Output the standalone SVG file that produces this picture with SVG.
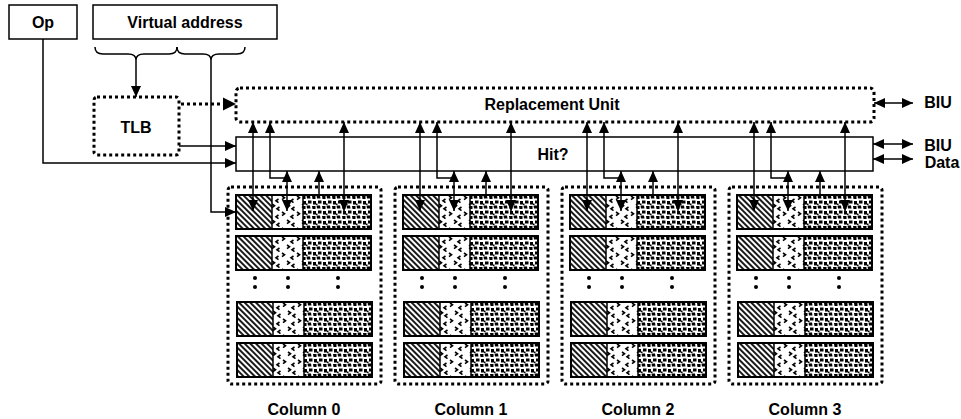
<svg xmlns="http://www.w3.org/2000/svg" xmlns:xlink="http://www.w3.org/1999/xlink" width="961" height="419" viewBox="0 0 961 419">
<style>
text{font-family:"Liberation Sans",Arial,sans-serif;font-weight:bold;font-size:16px;fill:#000;text-anchor:middle}
.box{fill:#fff;stroke:#000;stroke-width:1.5}
.dot{fill:none;stroke:#000;stroke-width:3;stroke-dasharray:3 3}
.ln{fill:none;stroke:#000;stroke-width:1.5}
.arr{marker-end:url(#ah)}
.arr2{marker-start:url(#ah);marker-end:url(#ah)}
.arrs{marker-start:url(#ah)}
.seg{stroke:#000;stroke-width:1.5}
</style>
<defs>
<marker id="ah" markerUnits="userSpaceOnUse" markerWidth="12" markerHeight="10" refX="11" refY="5" orient="auto-start-reverse"><path d="M0,0 L11,5 L0,10 z" fill="#000"/></marker>
<pattern id="hatch" patternUnits="userSpaceOnUse" width="4" height="10" patternTransform="rotate(-45)"><rect width="4" height="10" fill="#fff"/><line x1="1" y1="0" x2="1" y2="10" stroke="#000" stroke-width="1.8"/></pattern>
<pattern id="chev" patternUnits="userSpaceOnUse" width="15" height="16"><rect width="15" height="16" fill="#fff"/><path d="M1,1 L3.5,2.8 L1,4.6 M12.5,4 L10,5.8 L12.5,7.6 M6,9 L8.5,10.8 L6,12.6 M13.5,12 L11,13.8 L13.5,15.6" fill="none" stroke="#000" stroke-width="1.6"/></pattern>
<pattern id="dense" patternUnits="userSpaceOnUse" width="10" height="10"><rect width="10" height="10" fill="#fff"/><path d="M0.5,0.5 h3.5 l0.5,3 h-3.5z M6,1 h3.5 v3 h-3z M2,5.5 h3.5 v3 h-3.5z M7,6 h3 v3.5 h-3z M0,8.5 h1.5 v1.5 h-1.5z" fill="#000"/></pattern>
<g id="row">
<rect x="0" y="0" width="36" height="34" fill="url(#hatch)"/>
<rect x="36" y="0" width="31" height="34" fill="url(#chev)"/>
<rect x="67" y="0" width="68" height="34" fill="url(#dense)"/>
<rect x="0" y="0" width="135" height="34" fill="none" stroke="#000" stroke-width="2"/>
<line class="seg" x1="36" y1="0" x2="36" y2="34"/>
<line class="seg" x1="67" y1="0" x2="67" y2="34"/>
</g>
<g id="colbody">
<rect class="dot" x="228" y="187" width="153" height="197" rx="3"/>
<use xlink:href="#row" href="#row" x="236" y="195"/>
<use xlink:href="#row" href="#row" x="236" y="236"/>
<use xlink:href="#row" href="#row" x="237" y="302"/>
<use xlink:href="#row" href="#row" x="237" y="343"/>
<g fill="#000"><circle cx="255" cy="278" r="2"/><circle cx="255" cy="287" r="2"/><circle cx="288" cy="278" r="2"/><circle cx="288" cy="287" r="2"/><circle cx="338" cy="278" r="2"/><circle cx="338" cy="287" r="2"/></g>
</g>
</defs>

<g id="op"><rect class="box" x="9" y="5" width="68" height="34"/><text x="43" y="28">Op</text></g>
<g id="vaddr"><rect class="box" x="93" y="5" width="184" height="34"/><text x="185" y="28">Virtual address</text></g>
<g id="tlb"><rect class="dot" x="94" y="97" width="85" height="58" rx="3"/><text x="136" y="133">TLB</text></g>
<g id="replacement"><rect class="dot" x="236" y="88" width="638" height="34" rx="4"/><text x="552" y="110">Replacement Unit</text></g>
<g id="hit"><rect class="box" x="236" y="137" width="637" height="34"/><text x="553" y="160">Hit?</text></g>

<g id="column0"><use xlink:href="#colbody" href="#colbody"/><text x="304" y="415">Column 0</text></g>
<g id="column1" transform="translate(167,0)"><use xlink:href="#colbody" href="#colbody"/><text x="304" y="415">Column 1</text></g>
<g id="column2" transform="translate(334,0)"><use xlink:href="#colbody" href="#colbody"/><text x="304" y="415">Column 2</text></g>
<g id="column3" transform="translate(501,0)"><use xlink:href="#colbody" href="#colbody"/><text x="304" y="415">Column 3</text></g>

<g id="biu1"><text x="938" y="108">BIU</text></g>
<g id="biu2"><text x="938" y="151">BIU</text></g>
<g id="data"><text x="942" y="168">Data</text></g>

<g id="connectors">
<path class="ln" d="M95,47 Q95,54 103,54 L128,54 Q136,54 136,60 Q136,54 144,54 L169,54 Q177,54 177,47"/>
<path class="ln" d="M177,47 Q177,54 185,54 L203,54 Q211,54 211,60 Q211,54 219,54 L237,54 Q245,54 245,47"/>
<path class="ln arr" d="M136,60 V97"/>
<path class="ln arr" d="M211,60 V212 H236"/>
<path class="ln arr" d="M43,39 V163 H236"/>
<path class="ln arr" d="M179,146 H236"/>
<path class="dot" d="M181,104 H224" />
<path d="M223,97.5 L236,104 L223,110.5 z" fill="#000"/>
<path class="ln arr2" d="M874,103 H913"/>
<path class="ln arr2" d="M873,144 H913"/>
<path class="ln arr2" d="M873,159 H913"/>
<g id="conn-col0">
<path class="ln arr2" d="M253,122 V211"/>
<path class="ln arrs" d="M270,122 V178 H287"/>
<path class="ln arr2" d="M287,171 V211"/>
<path class="ln arr" d="M319,195 V171"/>
<path class="ln arr2" d="M344,122 V211"/>
</g>
<g id="conn-col1" transform="translate(167,0)">
<path class="ln arr2" d="M253,122 V211"/>
<path class="ln arrs" d="M270,122 V178 H287"/>
<path class="ln arr2" d="M287,171 V211"/>
<path class="ln arr" d="M319,195 V171"/>
<path class="ln arr2" d="M344,122 V211"/>
</g>
<g id="conn-col2" transform="translate(334,0)">
<path class="ln arr2" d="M253,122 V211"/>
<path class="ln arrs" d="M270,122 V178 H287"/>
<path class="ln arr2" d="M287,171 V211"/>
<path class="ln arr" d="M319,195 V171"/>
<path class="ln arr2" d="M344,122 V211"/>
</g>
<g id="conn-col3" transform="translate(501,0)">
<path class="ln arr2" d="M253,122 V211"/>
<path class="ln arrs" d="M270,122 V178 H287"/>
<path class="ln arr2" d="M287,171 V211"/>
<path class="ln arr" d="M319,195 V171"/>
<path class="ln arr2" d="M344,122 V211"/>
</g>
</g>
</svg>
